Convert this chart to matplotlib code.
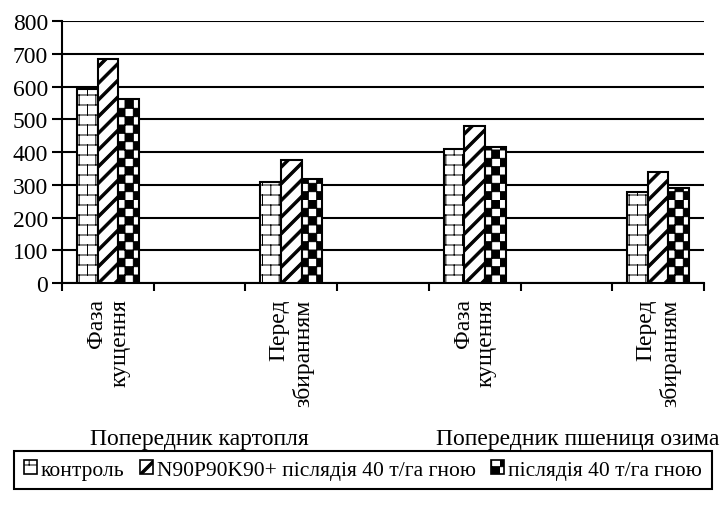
import warnings
import numpy as np
import matplotlib
matplotlib.use('Agg')
import matplotlib.pyplot as plt
import matplotlib.hatch as mhatch
from matplotlib.path import Path
from matplotlib.patches import Patch

warnings.filterwarnings('ignore')

# 7 category slots, empty ones are just spacers
categories = ['Фаза\nкущення', '', 'Перед\nзбиранням', '', 'Фаза\nкущення', '', 'Перед\nзбиранням']
series_names = ['контроль', 'N90P90K90+ післядія 40 т/га гною', 'післядія 40 т/га гною']
control = [592, 308, 409, 278]
npk_manure = [683, 376, 480, 340]
manure = [563, 319, 416, 291]
group_labels = ['Попередник картопля', 'Попередник пшениця озима']
y_ticks = [0, 100, 200, 300, 400, 500, 600, 700, 800]


# --- custom hatches (brick, checker, thick stripes) ---
class BrickHatch(mhatch.HatchPatternBase):
    rows, cols = 10, 6

    def __init__(self, hatch, density):
        on = 'b' in hatch
        n_lines = self.rows + (self.rows + 1) * self.cols
        self.num_vertices = 2 * n_lines if on else 0

    def set_vertices_and_codes(self, vertices, codes):
        R, C = self.rows, self.cols
        segs = []
        for i in range(R):
            y = (i + 0.5) / R
            segs.append(((0, y), (1, y)))
        for i in range(-1, R):
            y0, y1 = (i + 0.5) / R, (i + 1.5) / R
            off = 0.5 * (i % 2)
            for j in range(C):
                x = (j + off + 0.25) / C
                segs.append(((x, y0), (x, y1)))
        vertices[:] = np.array(segs).reshape(-1, 2)
        codes[0::2] = Path.MOVETO
        codes[1::2] = Path.LINETO


class CheckerHatch(mhatch.HatchPatternBase):
    n = 12

    def __init__(self, hatch, density):
        on = 'c' in hatch
        self.num_vertices = 5 * (self.n * self.n // 2) if on else 0

    def set_vertices_and_codes(self, vertices, codes):
        n = self.n
        s = 1.0 / n
        k = 0
        for i in range(n):
            for j in range(n):
                if (i + j) % 2 == 0:
                    x, y = i * s, j * s
                    vertices[k:k + 5] = [(x, y), (x + s, y), (x + s, y + s), (x, y + s), (x, y)]
                    codes[k] = Path.MOVETO
                    codes[k + 1:k + 4] = Path.LINETO
                    codes[k + 4] = Path.CLOSEPOLY
                    k += 5


class StripeHatch(mhatch.HatchPatternBase):
    n, w = 6, 0.035

    def __init__(self, hatch, density):
        on = 's' in hatch
        self.num_vertices = 5 * (2 * self.n + 1) if on else 0

    def set_vertices_and_codes(self, vertices, codes):
        n, w = self.n, self.w
        k = 0
        for m in range(-n, n + 1):
            c = m / n
            vertices[k:k + 5] = [(-0.2, -0.2 + c), (1.2, 1.2 + c), (1.2, 1.2 + c + w),
                                 (-0.2, -0.2 + c + w), (-0.2, -0.2 + c)]
            codes[k] = Path.MOVETO
            codes[k + 1:k + 4] = Path.LINETO
            codes[k + 4] = Path.CLOSEPOLY
            k += 5


mhatch._hatch_types.extend([BrickHatch, CheckerHatch, StripeHatch])
hatches = ['b', 's', 'c']

plt.rcParams['font.family'] = ['Liberation Serif', 'DejaVu Serif']
plt.rcParams['hatch.linewidth'] = 0.7
plt.rcParams['hatch.color'] = 'black'

fig = plt.figure(figsize=(7.23, 5.06), dpi=100)
ax = fig.add_axes([0.0858, 0.4387, 0.8879, 0.5178])

idx = [i for i, c in enumerate(categories) if c]
w = 0.225
for k, (vals, h) in enumerate(zip([control, npk_manure, manure], hatches)):
    ax.bar(np.array(idx) + (k - 1) * w, vals, width=w, color='white',
           edgecolor='black', linewidth=1.5, hatch=h, zorder=3)

ax.set_xlim(-0.5, len(categories) - 0.5)
ax.set_ylim(0, 800)
ax.set_yticks(y_ticks)
ax.yaxis.grid(True, color='black', linewidth=1.5, zorder=0)
ax.set_axisbelow(True)
ax.tick_params(axis='y', labelsize=17, length=7, width=1.5, direction='out', pad=3)

ax.set_xticks(idx)
ax.set_xticklabels([categories[i] for i in idx], rotation=90, va='top', ha='center',
                   multialignment='right', fontsize=17, linespacing=1.15)
ax.set_xticks(np.arange(-0.5, len(categories), 1), minor=True)
ax.tick_params(axis='x', which='major', length=0, pad=11)
ax.tick_params(axis='x', which='minor', length=6, width=1.5, direction='out')

for s in ['top', 'right']:
    ax.spines[s].set_visible(False)
for s in ['left', 'bottom']:
    ax.spines[s].set_linewidth(1.5)

trans = ax.get_xaxis_transform()
ax.text(1.0, -0.595, group_labels[0], transform=trans, ha='center', va='center', fontsize=17)
ax.text(5.12, -0.595, group_labels[1], transform=trans, ha='center', va='center', fontsize=17)

handles = [Patch(facecolor='white', edgecolor='black', linewidth=1.2, hatch=h, label=n)
           for h, n in zip(hatches, series_names)]
leg = fig.legend(handles=handles, loc='center', bbox_to_anchor=(0.502, 0.069), ncol=3,
                 fancybox=False, edgecolor='black', framealpha=1, fontsize=15.5,
                 handlelength=0.6, handleheight=0.6, handletextpad=0.2,
                 columnspacing=0.7, borderpad=0.45)
leg.get_frame().set_linewidth(1.5)

fig.savefig('out.png', dpi=100)
